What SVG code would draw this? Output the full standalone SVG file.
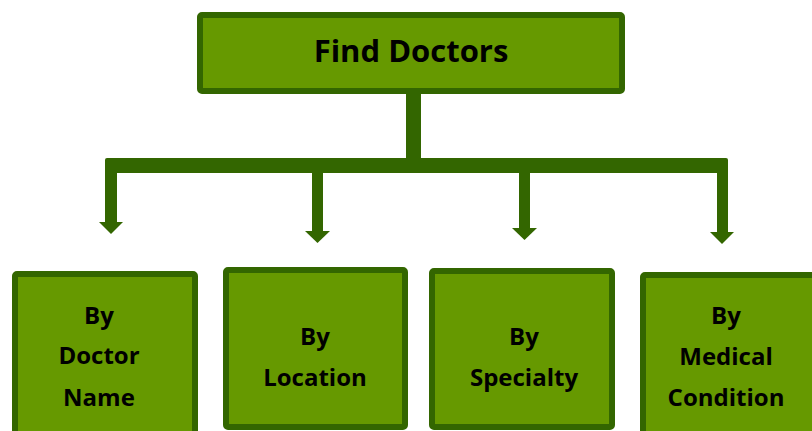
<svg xmlns="http://www.w3.org/2000/svg" width="812" height="431" viewBox="0 0 812 431">
<style>
.box{fill:#669900;stroke:#336600;stroke-width:6}
.lbl{font-family:"Open Sans","Liberation Sans",sans-serif;font-weight:bold;fill:#000;text-anchor:middle}
.t{font-size:31px}
.s{font-size:24px}
.c{fill:#336600}
</style>
<rect width="812" height="431" fill="#fff"/>
<g id="connectors">
<rect class="c" x="406" y="92" width="15" height="72"/>
<rect class="c" x="105" y="158" width="623" height="15" rx="2"/>
<rect class="c" x="105" y="165" width="12" height="58"/>
<polygon class="c" points="99,222 123,222 111,234"/>
<rect class="c" x="312" y="165" width="11" height="67"/>
<polygon class="c" points="305,231 330,231 317.5,243"/>
<rect class="c" x="519" y="165" width="11" height="64"/>
<polygon class="c" points="512,228 537,228 524.5,240"/>
<rect class="c" x="717" y="165" width="11" height="68"/>
<polygon class="c" points="710,232 734,232 722,244"/>
</g>
<g id="node-find-doctors">
<rect class="box" x="200" y="15" width="422" height="76" rx="2" stroke-width="5.5"/>
<text class="lbl t" x="411" y="62">Find Doctors</text>
</g>
<g id="node-by-doctor-name">
<rect class="box" x="15" y="274" width="180" height="170" rx="2"/>
<text class="lbl s" x="99" y="324">By</text>
<text class="lbl s" x="99" y="364">Doctor</text>
<text class="lbl s" x="99" y="406">Name</text>
</g>
<g id="node-by-location">
<rect class="box" x="226" y="270" width="179" height="157" rx="2"/>
<text class="lbl s" x="315" y="345">By</text>
<text class="lbl s" x="315" y="386">Location</text>
</g>
<g id="node-by-specialty">
<rect class="box" x="432" y="271" width="180" height="156" rx="2"/>
<text class="lbl s" x="524" y="345">By</text>
<text class="lbl s" x="524" y="386">Specialty</text>
</g>
<g id="node-by-medical-condition">
<rect class="box" x="643" y="275" width="180" height="170" rx="2"/>
<text class="lbl s" x="726" y="324">By</text>
<text class="lbl s" x="726" y="365">Medical</text>
<text class="lbl s" x="726" y="406">Condition</text>
</g>
</svg>
